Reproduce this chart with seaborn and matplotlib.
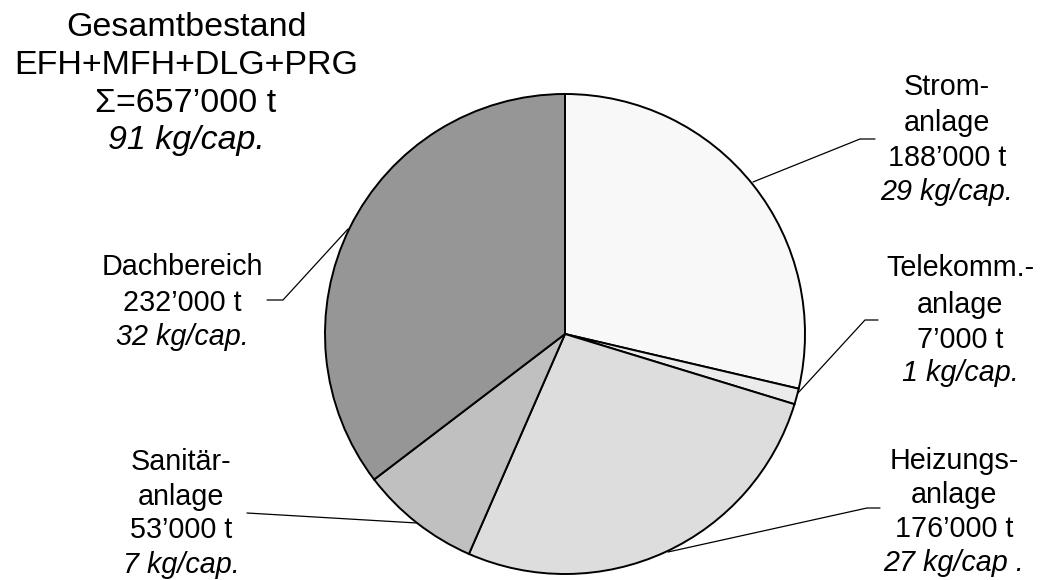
import matplotlib
matplotlib.use("Agg")
import matplotlib.pyplot as plt
import seaborn as sns

sns.set_theme(style="white")
plt.rcParams["font.family"] = ["Liberation Sans", "DejaVu Sans"]

# Building services material stock, total of all building types
categories = ["Strom-\nanlage", "Telekomm.-\nanlage", "Heizungs-\nanlage", "Sanitär-\nanlage", "Dachbereich"]
tonnes = [188000, 7000, 176000, 53000, 232000]
kg_per_cap = [29, 1, 27, 7, 32]
colors = ["#f8f8f8", "#ebebeb", "#dddddd", "#c0c0c0", "#969696"]
total_tonnes = 657000
total_kg_per_cap = 91

W, H = 1042, 580
fig = plt.figure(figsize=(W / 100, H / 100), dpi=100)
ax = fig.add_axes([0, 0, 1, 1])
ax.set_xlim(0, W)
ax.set_ylim(0, H)
ax.set_aspect("equal")
ax.axis("off")

cx, cy, r = 565, H - 334, 240
ax.pie(tonnes, colors=colors, startangle=90, counterclock=False,
       center=(cx, cy), radius=r,
       wedgeprops=dict(edgecolor="black", linewidth=1.4))
ax.set_xlim(0, W)
ax.set_ylim(0, H)


def fmt_t(v):
    return f"{v // 1000}’000 t"


def label(x, ys, lines, size=20.7):
    for i, (y, txt) in enumerate(zip(ys, lines)):
        style = "italic" if i == len(lines) - 1 else "normal"
        ax.text(x, H - y, txt, ha="center", va="center", fontsize=size,
                fontstyle=style, color="black")


def leader(points):
    xs = [p[0] for p in points]
    ys = [H - p[1] for p in points]
    ax.plot(xs, ys, color="black", linewidth=0.9)


# Title block
label(186, [27, 65, 103, 141],
      ["Gesamtbestand", "EFH+MFH+DLG+PRG", f"Σ={fmt_t(total_tonnes)}",
       f"{total_kg_per_cap} kg/cap."], size=24.5)

# Segment labels
label_pos = [
    (947, [87, 123, 158, 192]),
    (960, [268, 305, 340, 373]),
    (954, [461, 495, 529, 563]),
    (181, [462, 497, 530, 565]),
    (182, [267, 303, 337]),
]
for name, t, k, (x, ys) in zip(categories, tonnes, kg_per_cap, label_pos):
    lines = name.split("\n") + [fmt_t(t), f"{k} kg/cap."]
    if name.startswith("Heizung"):
        lines[-1] = f"{k} kg/cap ."
    label(x, ys, lines)

# Leader lines
leader([(753, 182), (860, 139), (875, 139)])
leader([(798, 393), (865, 320), (878, 320)])
leader([(668, 552), (867, 508), (880, 508)])
leader([(417, 523), (247, 513)])
leader([(348, 229), (283, 300), (267, 300)])

fig.savefig("out.png", dpi=100, facecolor="white")
